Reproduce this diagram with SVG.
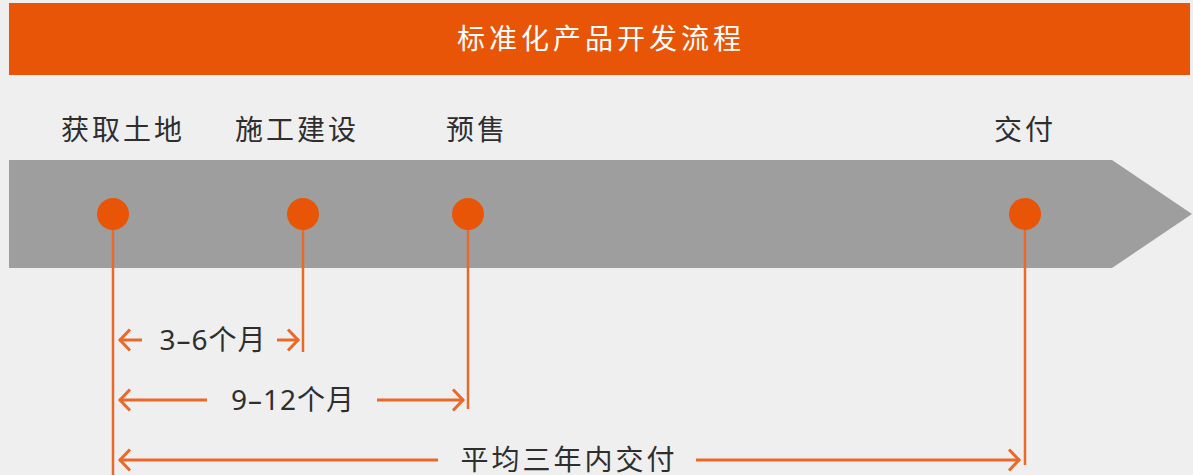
<svg xmlns="http://www.w3.org/2000/svg" width="1193" height="475" viewBox="0 0 1193 475">
<defs>
<style>
.lbl{font-family:"Liberation Sans","Noto Sans CJK SC",sans-serif;font-size:28px;fill:#2e2e2e;letter-spacing:3px;text-anchor:middle}
.num{font-family:"Noto Sans","Noto Sans CJK SC",sans-serif;font-size:28px;fill:#2e2e2e;letter-spacing:1px;text-anchor:middle}
.title{font-family:"Noto Sans CJK SC",sans-serif;font-size:28px;fill:#ffffff;letter-spacing:4px;text-anchor:middle;font-weight:400}
.dot{fill:#e85506}
.vline{stroke:#e8692a;stroke-width:2.5;fill:none}
.dim{stroke:#e8692a;stroke-width:3;fill:none;marker-end:url(#ah)}
</style>
<marker id="ah" markerWidth="16" markerHeight="26" refX="13" refY="12" orient="auto" markerUnits="userSpaceOnUse">
<path d="M2,1.5 L12,12 L2,22.5" fill="none" stroke="#e8692a" stroke-width="3"/>
</marker>
</defs>
<rect x="0" y="0" width="1193" height="475" fill="#efefef"/>
<g id="banner">
<rect x="9" y="3" width="1181" height="72" fill="#e85506"/>
<text class="title" x="601" y="49">标准化产品开发流程</text>
</g>
<g id="timeline">
<polygon points="9,160 1112,160 1192,214 1112,268 9,268" fill="#9e9e9e"/>
</g>
<g id="connectors">
<line class="vline" x1="113" y1="214" x2="113" y2="475"/>
<line class="vline" x1="303" y1="214" x2="303" y2="352"/>
<line class="vline" x1="468" y1="214" x2="468" y2="409"/>
<line class="vline" x1="1025" y1="214" x2="1025" y2="465"/>
<line class="dim" x1="142" y1="340" x2="119" y2="340"/>
<line class="dim" x1="277" y1="340" x2="299" y2="340"/>
<line class="dim" x1="207" y1="400" x2="119" y2="400"/>
<line class="dim" x1="377" y1="400" x2="464" y2="400"/>
<line class="dim" x1="438" y1="460" x2="119" y2="460"/>
<line class="dim" x1="696" y1="460" x2="1020" y2="460"/>
</g>
<g id="node-land">
<circle class="dot" cx="113" cy="214" r="16"/>
<text class="lbl" x="123" y="140">获取土地</text>
</g>
<g id="node-build">
<circle class="dot" cx="303" cy="214" r="16"/>
<text class="lbl" x="297" y="140">施工建设</text>
</g>
<g id="node-presale">
<circle class="dot" cx="468" cy="214" r="16"/>
<text class="lbl" x="477" y="140">预售</text>
</g>
<g id="node-deliver">
<circle class="dot" cx="1025" cy="214" r="16"/>
<text class="lbl" x="1025" y="140">交付</text>
</g>
<g id="durations">
<text class="num" x="213" y="350">3–6个月</text>
<text class="num" x="293" y="410">9–12个月</text>
<text class="lbl" x="569" y="470">平均三年内交付</text>
</g>
</svg>
